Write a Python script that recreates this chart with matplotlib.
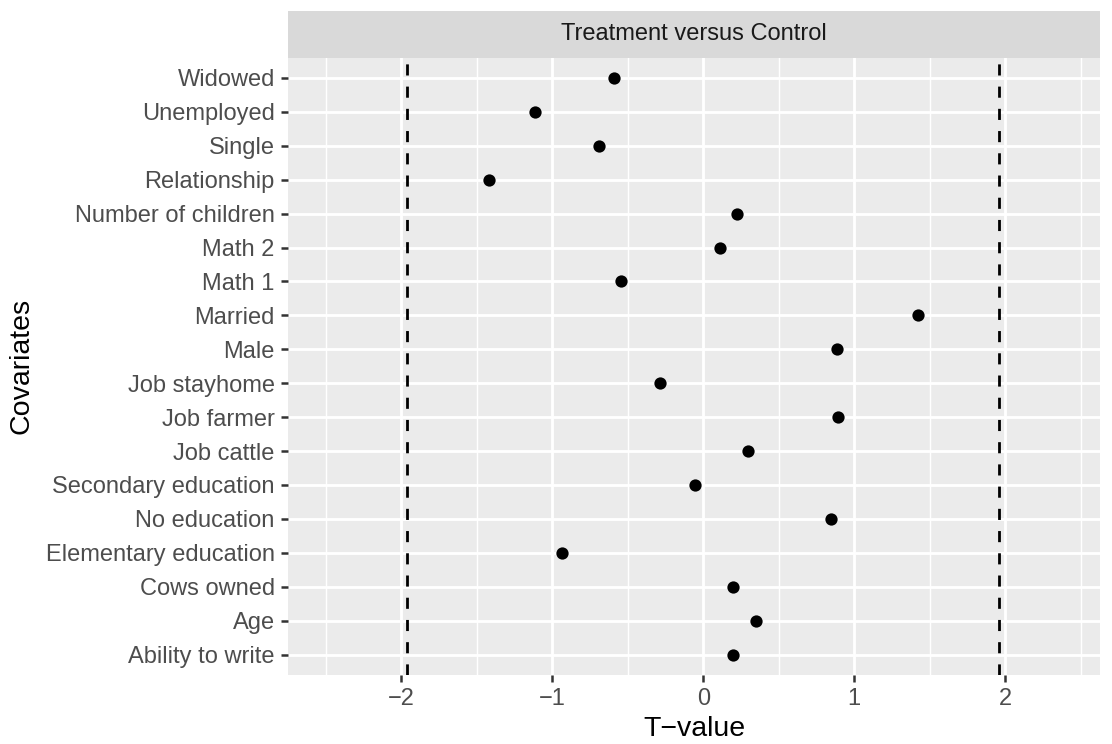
import matplotlib
matplotlib.use("Agg")
import matplotlib.pyplot as plt

plt.rcParams['font.family'] = ['Liberation Sans', 'DejaVu Sans']

# Covariates listed bottom to top, with their balance-test t-values
covariates = [
    "Ability to write", "Age", "Cows owned", "Elementary education",
    "No education", "Secondary education", "Job cattle", "Job farmer",
    "Job stayhome", "Male", "Married", "Math 1", "Math 2",
    "Number of children", "Relationship", "Single", "Unemployed", "Widowed",
]
t_values = [
    0.199, 0.347, 0.194, -0.934,
    0.848, -0.057, 0.298, 0.892,
    -0.285, 0.883, 1.42, -0.543, 0.113,
    0.225, -1.42, -0.69, -1.115, -0.59,
]
critical_values = [-1.96, 1.96]
x_ticks = [-2, -1, 0, 1, 2]
x_tick_labels = ["\u22122", "\u22121", "0", "1", "2"]
x_minor = [-2.5, -1.5, -0.5, 0.5, 1.5, 2.5]
panel_title = "Treatment versus Control"

W, H = 1112, 744
fig = plt.figure(figsize=(W / 100, H / 100), dpi=100)

left, right, top, bottom = 288, 1100, 57.5, 675
strip_top = 11
ax = fig.add_axes([left / W, 1 - bottom / H, (right - left) / W, (bottom - top) / H])
strip = fig.add_axes([left / W, 1 - top / H, (right - left) / W, (top - strip_top) / H])

ax.set_facecolor("#EBEBEB")
for s in ax.spines.values():
    s.set_visible(False)

ypos = list(range(len(covariates)))
ax.set_xlim(-2.75, 2.627)
ax.set_ylim(-0.6, len(covariates) - 1 + 0.6)

# grid
for xm in x_minor:
    ax.axvline(xm, color="white", lw=1.03, zorder=1)
for xt in x_ticks:
    ax.axvline(xt, color="white", lw=2.06, zorder=1)
for y in ypos:
    ax.axhline(y, color="white", lw=2.06, zorder=1)

for cv in critical_values:
    ax.axvline(cv, color="black", lw=2.0, linestyle=(0, (4, 4)), zorder=2)

ax.scatter(t_values, ypos, s=78, color="black", linewidths=0, zorder=3)

ax.set_xticks(x_ticks)
ax.set_xticklabels(x_tick_labels)
ax.set_yticks(ypos)
ax.set_yticklabels(covariates)
ax.tick_params(axis="both", length=5.3, width=1.8, color="#333333",
               labelsize=17, labelcolor="#4D4D4D", pad=4.2)

ax.set_xlabel("T\u2212value", fontsize=20.5, color="black", labelpad=4)
ax.set_ylabel("Covariates", fontsize=20.5, color="black", labelpad=8)

# facet strip
strip.set_facecolor("#D9D9D9")
strip.set_xticks([])
strip.set_yticks([])
for s in strip.spines.values():
    s.set_visible(False)
strip.text(0.5, 0.5, panel_title, ha="center", va="center",
           fontsize=17, color="#1A1A1A", transform=strip.transAxes)

fig.savefig("out.png", dpi=100, facecolor="white")
